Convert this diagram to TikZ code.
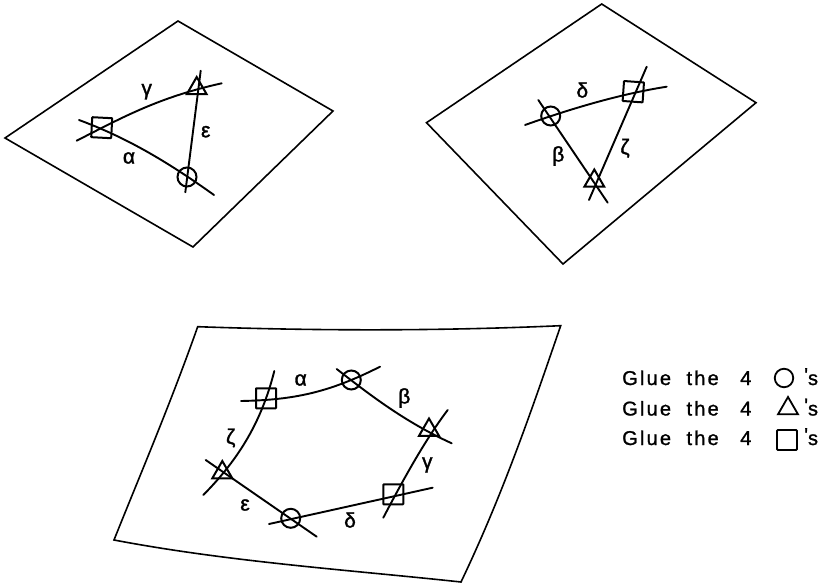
\documentclass[tikz,border=0pt]{standalone}
\usepackage{fontspec}
\usetikzlibrary{shapes.geometric}
\setmainfont{Liberation Sans}
\newfontfamily\legendfont[LetterSpace=11,WordSpace=2,FakeBold=1.2]{Liberation Sans}
\newfontfamily\greekfont[FakeBold=1.5]{Liberation Sans}
\tikzset{
  sheet/.style={line width=1.6pt,line join=miter},
  edgeline/.style={line width=1.9pt,line cap=round},
  sq/.style={draw,line width=2pt,rectangle,rounded corners=0.6pt,minimum size=20pt,inner sep=0pt},
  circ/.style={draw,line width=2pt,circle,minimum size=19pt,inner sep=0pt},
  tri/.style={draw,line width=2pt,regular polygon,regular polygon sides=3,minimum size=23pt,inner sep=0pt},
  greek/.style={font=\fontsize{21}{21}\greekfont,inner sep=0pt},
  legend/.style={font=\fontsize{20}{20}\legendfont,inner sep=0pt,anchor=base west},
  lsq/.style={draw,line width=1.8pt,rectangle,rounded corners=1pt,minimum width=20pt,minimum height=20pt,inner sep=0pt},
  lcirc/.style={draw,line width=1.8pt,circle,minimum size=18.5pt,inner sep=0pt},
  ltri/.style={draw,line width=1.8pt,regular polygon,regular polygon sides=3,minimum size=23pt,inner sep=0pt}
}
\begin{document}
\begin{tikzpicture}[x=1pt,y=-1pt]
\useasboundingbox (0,0) rectangle (826,585);
% sheets
\draw[sheet] (5,138) -- (178,21) -- (333,111) -- (193,247) -- cycle;
\draw[sheet] (426.5,122.7) -- (601.7,4) -- (756,102.7) -- (563,264) -- cycle;
\draw[sheet] (197.7,326.7) .. controls (320,331) and (440,331) .. (560.7,325.7)
  .. controls (535,400) and (505,490) .. (461,582)
  .. controls (350,570) and (230,562) .. (114,540)
  .. controls (140,475) and (170,405) .. (197.7,326.7) -- cycle;
% panel 1
\node[sq,rotate=-3] (a1) at (101.7,127.7) {};
\node[tri] (a2) at (196.7,88.5) {};
\node[circ] (a3) at (187,177) {};
\coordinate (a1g) at (76.7,140.7); \coordinate (a2g) at (221.7,83.3);
\coordinate (a1a) at (79,120); \coordinate (a3a) at (214,195);
\coordinate (a2e) at (200.7,70.7); \coordinate (a3e) at (185.3,192.3);
\draw[edgeline] (a1g) .. controls (125,116) and (160,97) .. (a2g);
\draw[edgeline] (a1a) .. controls (125,137) and (165,160) .. (a3a);
\draw[edgeline] (a2e) -- (a3e);
\node[greek] (a4) at (146.7,91.7) {γ};
\node[greek] (a5) at (205.7,131.7) {ε};
\node[greek] (a6) at (129,158) {α};
% panel 2
\node[circ] (b1) at (550.7,116) {};
\node[sq,rotate=-4] (b2) at (633.3,91.7) {};
\node[tri] (b3) at (594.3,181) {};
\coordinate (b1d) at (525,125); \coordinate (b2d) at (666.7,86.7);
\coordinate (b1b) at (538.3,100); \coordinate (b3b) at (607.7,202.7);
\coordinate (b2z) at (646.7,66.7); \coordinate (b3z) at (589,200);
\draw[edgeline] (b1d) .. controls (570,109) and (620,94) .. (b2d);
\draw[edgeline] (b1b) -- (b3b);
\draw[edgeline] (b2z) -- (b3z);
\node[greek] (b4) at (582.3,90) {δ};
\node[greek] (b5) at (558.3,156) {β};
\node[greek] (b6) at (625,148.3) {ζ};
% panel 3
\node[sq] (c1) at (266,398.3) {};
\node[circ] (c2) at (351.3,380) {};
\node[tri] (c3) at (429,430) {};
\node[sq] (c4) at (393.3,494.3) {};
\node[circ] (c5) at (290.7,518.3) {};
\node[tri] (c6) at (222.3,472.5) {};
\coordinate (c1a) at (241,401); \coordinate (c2a) at (380,366.7);
\coordinate (c2b) at (336.7,369); \coordinate (c3b) at (451.7,443.3);
\coordinate (c3g) at (447.7,410); \coordinate (c4g) at (383.3,517.7);
\coordinate (c4d) at (432.7,487.7); \coordinate (c5d) at (269,524);
\coordinate (c6e) at (205.7,460); \coordinate (c5e) at (316.7,536.7);
\coordinate (c1z) at (274.3,371); \coordinate (c6z) at (203.3,495);
\draw[edgeline] (c1a) .. controls (295,400) and (330,392) .. (c2a);
\draw[edgeline] (c2b) .. controls (370,395) and (405,422) .. (c3b);
\draw[edgeline] (c3g) .. controls (425,440) and (403,480) .. (c4g);
\draw[edgeline] (c5d) -- (c4d);
\draw[edgeline] (c6e) -- (c5e);
\draw[edgeline] (c1z) .. controls (262,420) and (240,458) .. (c6z);
\node[greek] (c7) at (300.7,380) {α};
\node[greek] (c8) at (404.3,398) {β};
\node[greek] (c9) at (427.3,465) {γ};
\node[greek] (c10) at (350,520) {δ};
\node[greek] (c11) at (245,505) {ε};
\node[greek] (c12) at (230.7,438) {ζ};
% legend
\node[legend] (l1) at (622,385) {Glue the\hspace{6pt} 4};
\node[legend] (l2) at (622,415.5) {Glue the\hspace{6pt} 4};
\node[legend] (l3) at (622,445) {Glue the\hspace{6pt} 4};
\node[lcirc] (s1) at (784,378) {};
\node[ltri] (s2) at (788,408.5) {};
\node[lsq] (s3) at (787,440) {};
\node[legend] (p1) at (804,385) {\raisebox{3pt}{'}s};
\node[legend] (p2) at (804,415.5) {\raisebox{3pt}{'}s};
\node[legend] (p3) at (804,445) {\raisebox{3pt}{'}s};
\end{tikzpicture}
\end{document}
